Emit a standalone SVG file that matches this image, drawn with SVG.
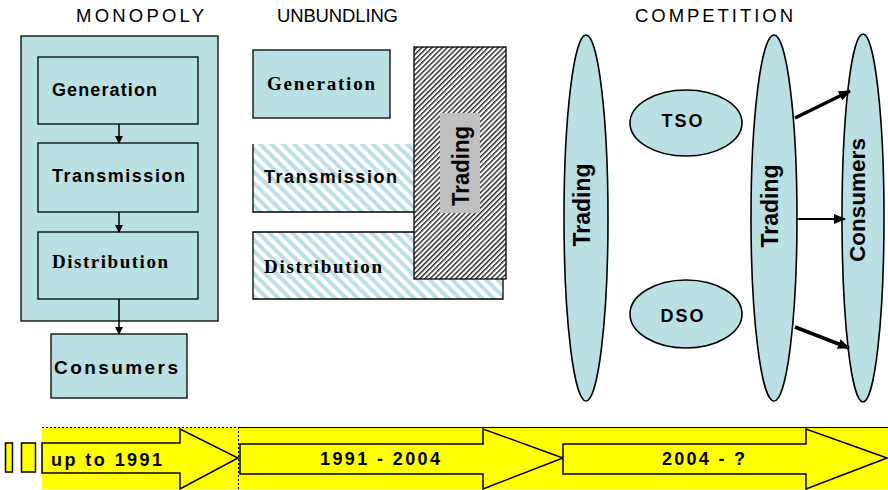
<svg xmlns="http://www.w3.org/2000/svg" width="888" height="490" viewBox="0 0 888 490">
<defs>
<style>
.box{fill:#BBE0E3;stroke:#000;stroke-width:1.3}
.ell{fill:#BBE0E3;stroke:#000;stroke-width:1.6}
.sans{font-family:"Liberation Sans",Arial,sans-serif;font-weight:bold;fill:#000}
.serif{font-family:"Liberation Serif","Times New Roman",serif;font-weight:bold;fill:#000}
.head{font-family:"Liberation Sans",Arial,sans-serif;font-size:18.5px;fill:#000}
.con{stroke:#000;stroke-width:1.5;fill:none}
.tl{fill:#FFFF00;stroke:#000;stroke-width:1.5}
</style>
<pattern id="hatchBlue" patternUnits="userSpaceOnUse" width="8" height="8" patternTransform="rotate(-45)">
<rect width="8" height="8" fill="#fff"/>
<rect width="4" height="8" fill="#BBE0E3"/>
</pattern>
<pattern id="hatchBlack" patternUnits="userSpaceOnUse" width="3.6" height="3.6" patternTransform="rotate(45)">
<rect width="3.6" height="3.6" fill="#fff"/>
<rect width="1.4" height="3.6" fill="#222"/>
</pattern>
<marker id="ah" markerWidth="8" markerHeight="8" refX="7" refY="4" orient="auto" markerUnits="userSpaceOnUse">
<path d="M0,0 L8,4 L0,8 z" fill="#000"/>
</marker>
<marker id="ah2" markerWidth="12" markerHeight="10" refX="11" refY="5" orient="auto" markerUnits="userSpaceOnUse">
<path d="M0,0 L12,5 L0,10 z" fill="#000"/>
</marker>
</defs>
<rect width="888" height="490" fill="#fff"/>

<!-- headings -->
<g id="headings">
<text class="head" x="76" y="22" textLength="128" lengthAdjust="spacing">MONOPOLY</text>
<text class="head" x="277" y="22" textLength="121" lengthAdjust="spacing">UNBUNDLING</text>
<text class="head" x="635" y="22" textLength="158" lengthAdjust="spacing">COMPETITION</text>
</g>

<!-- MONOPOLY -->
<g id="monopoly">
<rect class="box" x="21" y="36" width="197" height="285"/>
</g>
<g id="m-generation">
<rect class="box" x="38" y="57" width="160" height="67"/>
<text class="sans" x="52" y="96" font-size="18" textLength="105" lengthAdjust="spacing">Generation</text>
</g>
<g id="m-transmission">
<rect class="box" x="38" y="143" width="160" height="69"/>
<text class="sans" x="52" y="182" font-size="18" textLength="133" lengthAdjust="spacing">Transmission</text>
</g>
<g id="m-distribution">
<rect class="box" x="38" y="232" width="160" height="67"/>
<text class="serif" x="52" y="268" font-size="19" textLength="116" lengthAdjust="spacing">Distribution</text>
</g>
<g id="m-consumers">
<rect class="box" x="51" y="334" width="136" height="64"/>
<text class="sans" x="54" y="374" font-size="19" textLength="124" lengthAdjust="spacing">Consumers</text>
</g>

<!-- UNBUNDLING -->
<g id="u-generation">
<rect class="box" x="253" y="50" width="137" height="68"/>
<text class="serif" x="267" y="90" font-size="19" textLength="108" lengthAdjust="spacing">Generation</text>
</g>
<g id="u-transmission">
<rect x="253" y="144" width="162" height="68" fill="url(#hatchBlue)"/>
<polyline points="415,212 253,212 253,144" fill="none" stroke="#000" stroke-width="1.3"/>
<text class="sans" x="264" y="183" font-size="18" textLength="133" lengthAdjust="spacing">Transmission</text>
</g>
<g id="u-distribution">
<rect x="253" y="232" width="250" height="67" fill="url(#hatchBlue)"/>
<polyline points="415,232 253,232 253,299 503,299 503,279" fill="none" stroke="#000" stroke-width="1.3"/>
<text class="serif" x="264" y="273" font-size="19" textLength="118" lengthAdjust="spacing">Distribution</text>
</g>
<g id="u-trading">
<rect x="414" y="47" width="92" height="232" fill="url(#hatchBlack)" stroke="#000" stroke-width="1.3"/>
<rect x="440" y="113" width="40" height="100" fill="#C0C0C0"/>
<text class="sans" transform="translate(469,166) rotate(-90)" x="0" y="0" font-size="23" text-anchor="middle" textLength="80" lengthAdjust="spacingAndGlyphs">Trading</text>
</g>

<!-- COMPETITION -->
<g id="c-trading1">
<ellipse class="ell" cx="586" cy="218" rx="22" ry="183"/>
<text class="sans" transform="translate(590,205) rotate(-90)" font-size="23" text-anchor="middle">Trading</text>
</g>
<g id="c-tso">
<ellipse class="ell" cx="686" cy="123" rx="56" ry="33"/>
<text class="sans" x="683" y="127" font-size="18" text-anchor="middle" letter-spacing="2">TSO</text>
</g>
<g id="c-dso">
<ellipse class="ell" cx="686" cy="314" rx="56" ry="34"/>
<text class="sans" x="683" y="322" font-size="18" text-anchor="middle" letter-spacing="2">DSO</text>
</g>
<g id="c-trading2">
<ellipse class="ell" cx="774" cy="218" rx="23" ry="183"/>
<text class="sans" transform="translate(778,206) rotate(-90)" font-size="23" text-anchor="middle">Trading</text>
</g>
<g id="c-consumers">
<ellipse class="ell" cx="863" cy="218" rx="21" ry="184"/>
<text class="sans" transform="translate(865,200) rotate(-90)" font-size="22.5" text-anchor="middle">Consumers</text>
</g>

<!-- connectors -->
<g id="connectors">
<line class="con" x1="119" y1="124" x2="119" y2="143" marker-end="url(#ah)"/>
<line class="con" x1="119" y1="212" x2="119" y2="232" marker-end="url(#ah)"/>
<line class="con" x1="119" y1="299" x2="119" y2="334" marker-end="url(#ah)"/>
<line x1="795" y1="118" x2="850" y2="91" stroke="#000" stroke-width="3.5" marker-end="url(#ah2)"/>
<line x1="796" y1="219" x2="845" y2="219" stroke="#000" stroke-width="2" marker-end="url(#ah2)"/>
<line x1="795" y1="327" x2="849" y2="348" stroke="#000" stroke-width="3.5" marker-end="url(#ah2)"/>
</g>

<!-- TIMELINE -->
<g id="timeline">
<rect x="42" y="427" width="196" height="62" fill="#FFFF00"/>
<rect x="238" y="427" width="650" height="62" fill="#FFFF00"/>
<line x1="42" y1="427.5" x2="238" y2="427.5" stroke="#000" stroke-width="1" stroke-dasharray="2,2"/>
<line x1="238.5" y1="427" x2="238.5" y2="489" stroke="#000" stroke-width="1" stroke-dasharray="2,2"/>
<line x1="238" y1="427.5" x2="888" y2="427.5" stroke="#000" stroke-width="1"/>
<rect class="tl" x="5.5" y="443" width="7" height="29"/>
<rect class="tl" x="21.5" y="443" width="14" height="29"/>
</g>
<g id="arrow-1">
<polygon class="tl" points="42,443 180,443 180,429 238,458 180,489 180,473 42,473"/>
<text class="sans" x="51" y="466" font-size="18" textLength="111" lengthAdjust="spacing">up to 1991</text>
</g>
<g id="arrow-2">
<polygon class="tl" points="240,444 483,444 483,429 563,458 483,489 483,474 240,474"/>
<text class="sans" x="320" y="465" font-size="18" textLength="120" lengthAdjust="spacing">1991 - 2004</text>
</g>
<g id="arrow-3">
<polygon class="tl" points="563,444 806,444 806,429 887,458 806,489 806,474 563,474"/>
<text class="sans" x="662" y="465" font-size="18" textLength="83" lengthAdjust="spacing">2004 - ?</text>
</g>
</svg>
